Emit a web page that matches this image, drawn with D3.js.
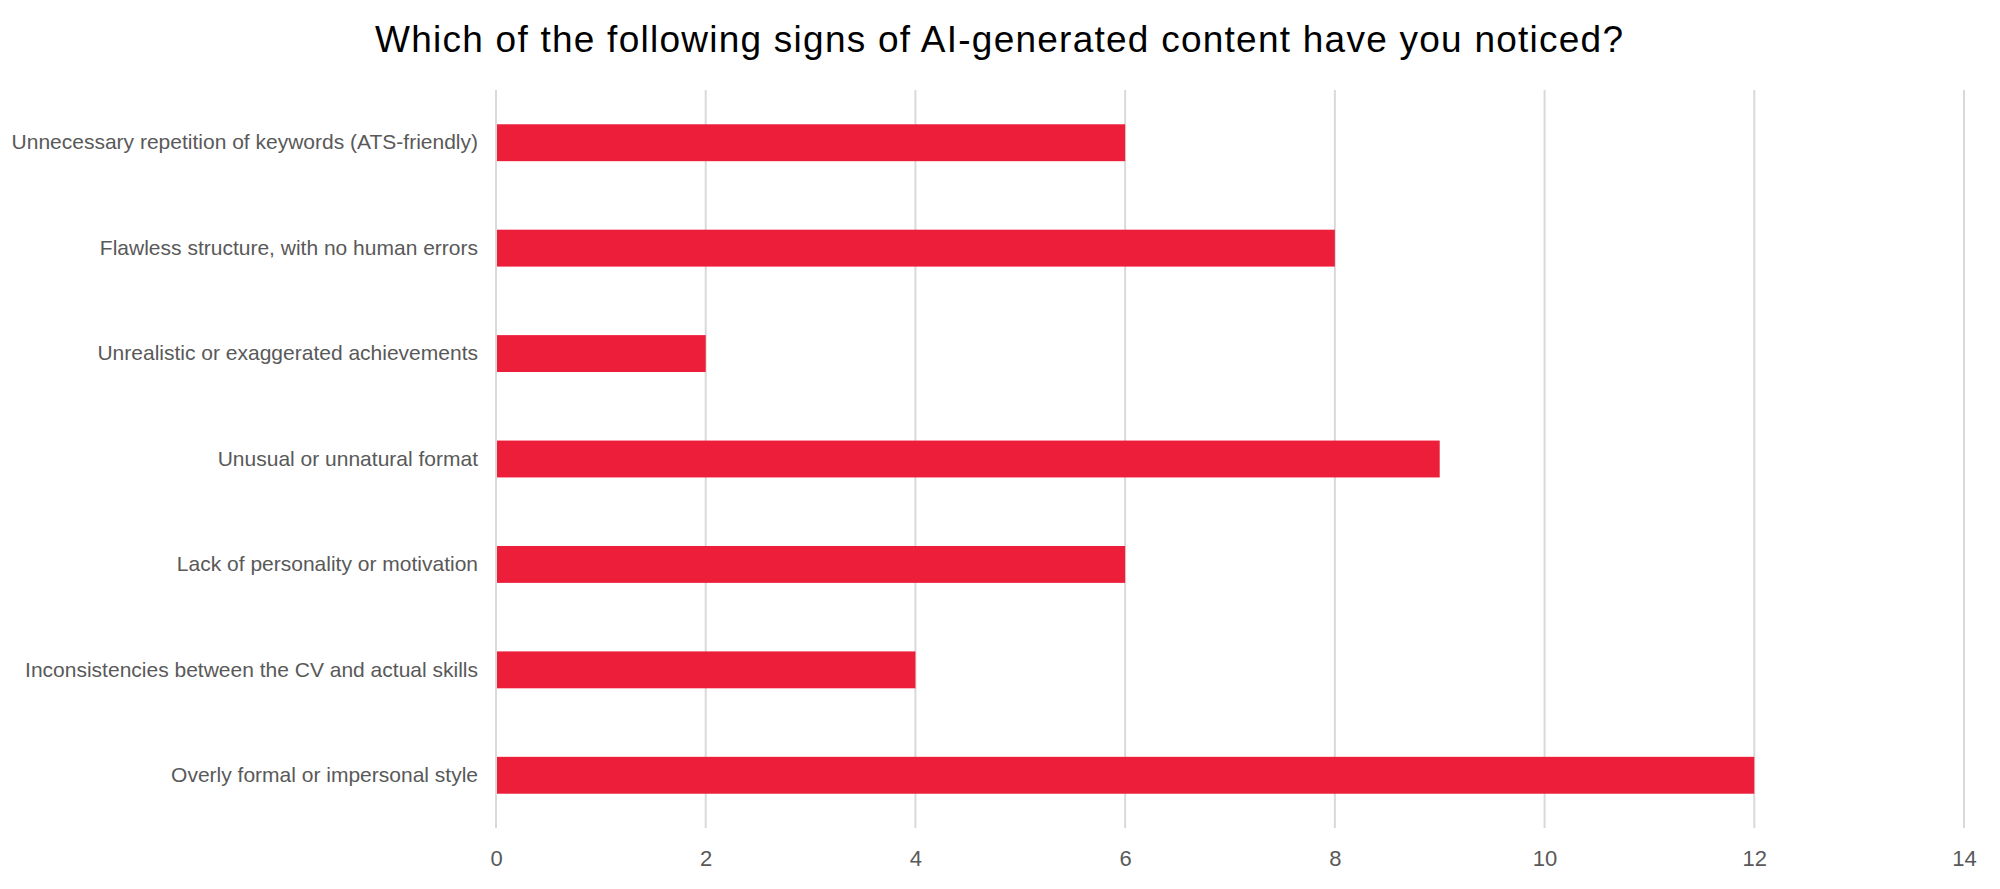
<!DOCTYPE html>
<html>
<head>
<meta charset="utf-8">
<script src="https://cdn.jsdelivr.net/npm/d3@7"></script>
<style>
  html, body { margin: 0; padding: 0; background: #ffffff; }
  svg { display: block; }
</style>
</head>
<body>
<svg id="chart" width="2000" height="889"></svg>
<script>
const titleText = "Which of the following signs of AI-generated content have you noticed?";
const categories = [
  "Unnecessary repetition of keywords (ATS-friendly)",
  "Flawless structure, with no human errors",
  "Unrealistic or exaggerated achievements",
  "Unusual or unnatural format",
  "Lack of personality or motivation",
  "Inconsistencies between the CV and actual skills",
  "Overly formal or impersonal style"
];
const values = [6, 8, 2, 9, 6, 4, 12];
const tickValues = [0, 2, 4, 6, 8, 10, 12, 14];

const svg = d3.select("#chart");
const margin = { left: 496, right: 36, top: 90, bottom: 61 };
const W = 2000, H = 889;

const x = d3.scaleLinear().domain([0, 14]).range([margin.left, W - margin.right]);
const y = d3.scaleBand().domain(categories).range([margin.top, H - margin.bottom]).paddingInner(0.65).paddingOuter(0.325);

// gridlines
svg.append("g")
  .selectAll("line")
  .data(tickValues)
  .join("line")
  .attr("x1", d => x(d)).attr("x2", d => x(d))
  .attr("y1", margin.top).attr("y2", H - margin.bottom)
  .attr("stroke", "#d9d9d9")
  .attr("stroke-width", 2);

// x axis labels
const xAxis = d3.axisBottom(x).tickValues(tickValues).tickSize(0).tickPadding(22);
const gx = svg.append("g")
  .attr("transform", `translate(0,${H - margin.bottom})`)
  .call(xAxis);
gx.select(".domain").remove();
gx.selectAll("text")
  .attr("fill", "#595959")
  .style("font-family", "'Liberation Sans', Arial, sans-serif")
  .style("font-size", "22px");

// y axis labels
const yAxis = d3.axisLeft(y).tickSize(0).tickPadding(18);
const gy = svg.append("g")
  .attr("transform", `translate(${margin.left},0)`)
  .call(yAxis);
gy.select(".domain").remove();
gy.selectAll("text")
  .attr("fill", "#595959")
  .style("font-family", "'Liberation Sans', Arial, sans-serif")
  .style("font-size", "21px");

// bars
svg.append("g")
  .selectAll("rect")
  .data(categories.map((c, i) => ({ c, v: values[i] })))
  .join("rect")
  .attr("x", x(0) + 1)
  .attr("y", d => y(d.c))
  .attr("width", d => x(d.v) - x(0) - 1)
  .attr("height", y.bandwidth())
  .attr("fill", "#ed1e3a");

// title
svg.append("text")
  .attr("x", 999)
  .attr("y", 52)
  .attr("text-anchor", "middle")
  .attr("fill", "#000000")
  .attr("textLength", 1248)
  .attr("lengthAdjust", "spacing")
  .style("font-family", "'Liberation Sans', Arial, sans-serif")
  .style("font-size", "37px")
  .text(titleText);
</script>
</body>
</html>
